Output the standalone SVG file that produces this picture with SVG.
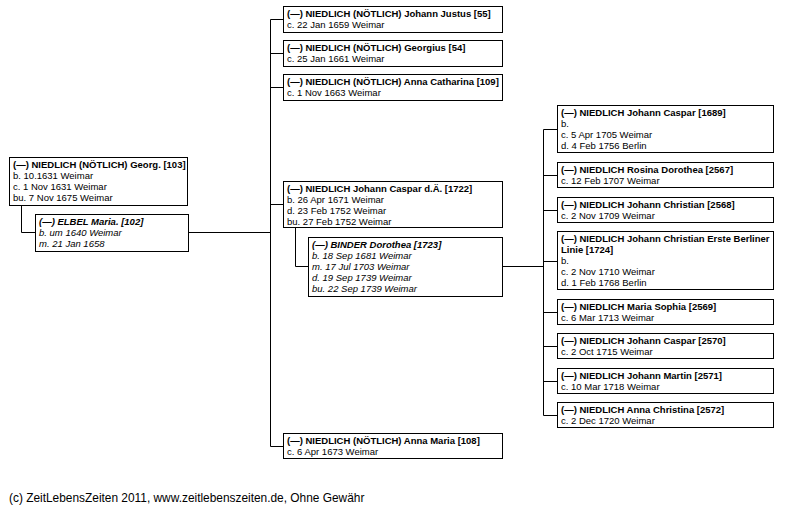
<svg xmlns="http://www.w3.org/2000/svg" width="787" height="509" viewBox="0 0 787 509">
<style>
.box{fill:#fff;stroke:#000;stroke-width:1}
.t{font-family:"Liberation Sans",Arial,sans-serif;font-size:9.5px;fill:#000}
.h{font-weight:bold}
.i{font-style:italic}
.con{fill:none;stroke:#000;stroke-width:1}
.foot{font-family:"Liberation Sans",Arial,sans-serif;font-size:11.9px;fill:#000}
</style>
<rect width="787" height="509" fill="#fff"/>
<g id="connectors" class="con">
<path d="M21.5 205 V232.5 H35"/>
<path d="M189 232.5 H270.5"/>
<path d="M270.5 19.5 V446.5"/>
<path d="M270.5 19.5 H283 M270.5 53.5 H283 M270.5 87.5 H283 M270.5 204.5 H283 M270.5 446.5 H283"/>
<path d="M295.5 228 V266.5 H308"/>
<path d="M503 266.5 H543.5"/>
<path d="M543.5 129.5 V415.5"/>
<path d="M543.5 129.5 H557 M543.5 175.5 H557 M543.5 210.5 H557 M543.5 261.5 H557 M543.5 312.5 H557 M543.5 346.5 H557 M543.5 381.5 H557 M543.5 415.5 H557"/>
</g>
<g id="n103">
<rect class="box" x="9.5" y="157.5" width="178" height="48"/>
<text class="t" x="13" y="168"><tspan class="h">(—) NIEDLICH (NÖTLICH) Georg. [103]</tspan><tspan x="13" dy="11">b. 10.1631 Weimar</tspan><tspan x="13" dy="11">c. 1 Nov 1631 Weimar</tspan><tspan x="13" dy="11">bu. 7 Nov 1675 Weimar</tspan></text>
</g>
<g id="n102">
<rect class="box" x="35.5" y="214.5" width="153" height="37"/>
<text class="t i" x="39" y="225"><tspan class="h">(—) ELBEL Maria. [102]</tspan><tspan x="39" dy="11">b. um 1640 Weimar</tspan><tspan x="39" dy="11">m. 21 Jan 1658</tspan></text>
</g>
<g id="n55">
<rect class="box" x="283.5" y="6.5" width="219" height="26"/>
<text class="t" x="287" y="17"><tspan class="h">(—) NIEDLICH (NÖTLICH) Johann Justus [55]</tspan><tspan x="287" dy="11">c. 22 Jan 1659 Weimar</tspan></text>
</g>
<g id="n54">
<rect class="box" x="283.5" y="40.5" width="219" height="26"/>
<text class="t" x="287" y="51"><tspan class="h">(—) NIEDLICH (NÖTLICH) Georgius [54]</tspan><tspan x="287" dy="11">c. 25 Jan 1661 Weimar</tspan></text>
</g>
<g id="n109">
<rect class="box" x="283.5" y="74.5" width="219" height="26"/>
<text class="t" x="287" y="85"><tspan class="h">(—) NIEDLICH (NÖTLICH) Anna Catharina [109]</tspan><tspan x="287" dy="11">c. 1 Nov 1663 Weimar</tspan></text>
</g>
<g id="n1722">
<rect class="box" x="283.5" y="181.5" width="219" height="46"/>
<text class="t" x="287" y="192"><tspan class="h">(—) NIEDLICH Johann Caspar d.Ä. [1722]</tspan><tspan x="287" dy="11">b. 26 Apr 1671 Weimar</tspan><tspan x="287" dy="11">d. 23 Feb 1752 Weimar</tspan><tspan x="287" dy="11">bu. 27 Feb 1752 Weimar</tspan></text>
</g>
<g id="n1723">
<rect class="box" x="308.5" y="237.5" width="194" height="59"/>
<text class="t i" x="312" y="248"><tspan class="h">(—) BINDER Dorothea [1723]</tspan><tspan x="312" dy="11">b. 18 Sep 1681 Weimar</tspan><tspan x="312" dy="11">m. 17 Jul 1703 Weimar</tspan><tspan x="312" dy="11">d. 19 Sep 1739 Weimar</tspan><tspan x="312" dy="11">bu. 22 Sep 1739 Weimar</tspan></text>
</g>
<g id="n108">
<rect class="box" x="283.5" y="433.5" width="219" height="25"/>
<text class="t" x="287" y="444"><tspan class="h">(—) NIEDLICH (NÖTLICH) Anna Maria [108]</tspan><tspan x="287" dy="11">c. 6 Apr 1673 Weimar</tspan></text>
</g>
<g id="n1689">
<rect class="box" x="557.5" y="105.5" width="216" height="47"/>
<text class="t" x="561" y="116"><tspan class="h">(—) NIEDLICH Johann Caspar [1689]</tspan><tspan x="561" dy="11">b.</tspan><tspan x="561" dy="11">c. 5 Apr 1705 Weimar</tspan><tspan x="561" dy="11">d. 4 Feb 1756 Berlin</tspan></text>
</g>
<g id="n2567">
<rect class="box" x="557.5" y="162.5" width="216" height="25"/>
<text class="t" x="561" y="173"><tspan class="h">(—) NIEDLICH Rosina Dorothea [2567]</tspan><tspan x="561" dy="11">c. 12 Feb 1707 Weimar</tspan></text>
</g>
<g id="n2568">
<rect class="box" x="557.5" y="197.5" width="216" height="25"/>
<text class="t" x="561" y="208"><tspan class="h">(—) NIEDLICH Johann Christian [2568]</tspan><tspan x="561" dy="11">c. 2 Nov 1709 Weimar</tspan></text>
</g>
<g id="n1724">
<rect class="box" x="557.5" y="231.5" width="216" height="58"/>
<text class="t" x="561" y="242"><tspan class="h">(—) NIEDLICH Johann Christian Erste Berliner</tspan><tspan class="h" x="561" dy="11">Linie [1724]</tspan><tspan x="561" dy="11">b.</tspan><tspan x="561" dy="11">c. 2 Nov 1710 Weimar</tspan><tspan x="561" dy="11">d. 1 Feb 1768 Berlin</tspan></text>
</g>
<g id="n2569">
<rect class="box" x="557.5" y="299.5" width="216" height="25"/>
<text class="t" x="561" y="310"><tspan class="h">(—) NIEDLICH Maria Sophia [2569]</tspan><tspan x="561" dy="11">c. 6 Mar 1713 Weimar</tspan></text>
</g>
<g id="n2570">
<rect class="box" x="557.5" y="333.5" width="216" height="25"/>
<text class="t" x="561" y="344"><tspan class="h">(—) NIEDLICH Johann Caspar [2570]</tspan><tspan x="561" dy="11">c. 2 Oct 1715 Weimar</tspan></text>
</g>
<g id="n2571">
<rect class="box" x="557.5" y="368.5" width="216" height="25"/>
<text class="t" x="561" y="379"><tspan class="h">(—) NIEDLICH Johann Martin [2571]</tspan><tspan x="561" dy="11">c. 10 Mar 1718 Weimar</tspan></text>
</g>
<g id="n2572">
<rect class="box" x="557.5" y="402.5" width="216" height="25"/>
<text class="t" x="561" y="413"><tspan class="h">(—) NIEDLICH Anna Christina [2572]</tspan><tspan x="561" dy="11">c. 2 Dec 1720 Weimar</tspan></text>
</g>
<text class="foot" x="9" y="502">(c) ZeitLebensZeiten 2011, www.zeitlebenszeiten.de, Ohne Gewähr</text>
</svg>
